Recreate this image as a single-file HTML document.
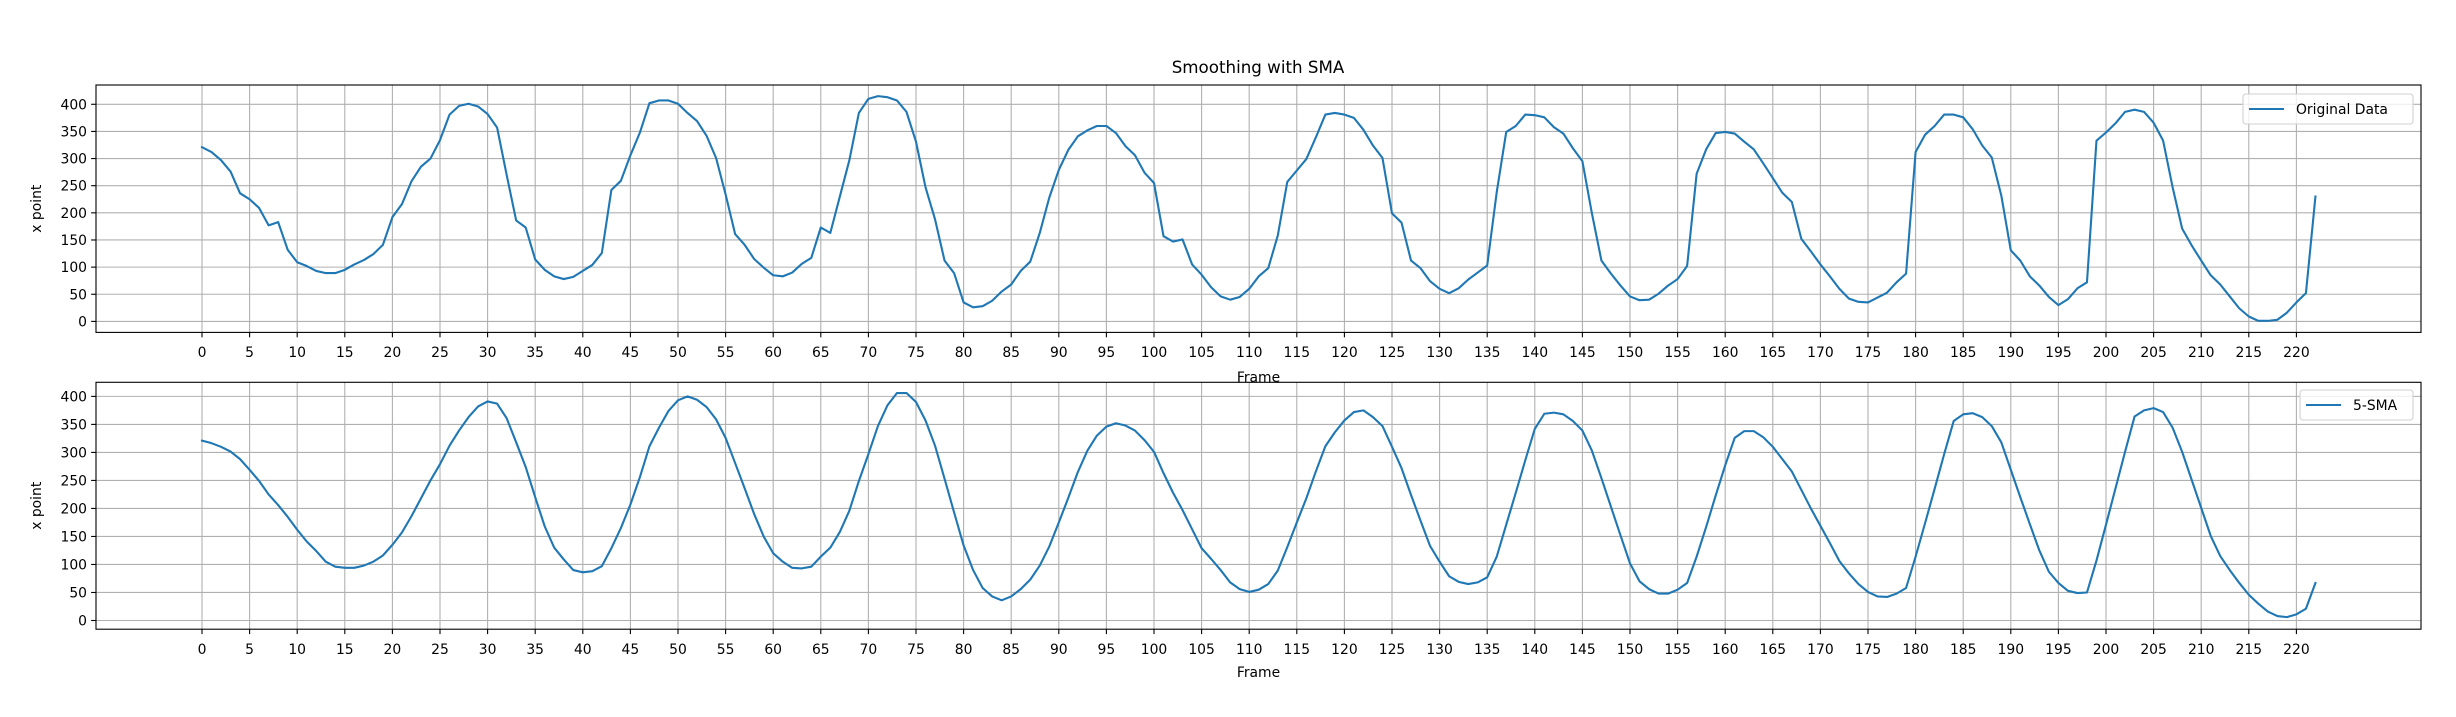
<!DOCTYPE html>
<html><head><meta charset="utf-8"><style>
html,body{margin:0;padding:0;background:#fff}
svg{display:block;font-family:"DejaVu Sans","Liberation Sans",sans-serif}
</style></head><body>
<svg id="fig" width="2456" height="717" viewBox="0 0 2456 717" xmlns="http://www.w3.org/2000/svg">
<rect width="2456" height="717" fill="#fff"/>
<text x="1258" y="73" font-size="16.7" text-anchor="middle" fill="#000">Smoothing with SMA</text>
</svg>
<script>
const original = [321,312,297,276,236,225,209,177,183,132,109,102,93,89,89,95,105,113,124,141,192,216,258,285,300,334,381,397,401,396,382,357,270,186,173,114,95,83,78,82,93,104,126,242,259,306,348,402,407,407,401,384,369,342,301,234,161,141,115,99,85,83,90,106,117,173,163,230,297,384,410,415,413,407,386,331,247,188,112,89,35,26,28,38,55,68,93,110,163,228,279,316,341,352,360,360,347,323,306,274,255,157,147,151,105,86,63,46,40,45,60,83,98,158,257,278,299,339,381,384,381,375,353,324,301,199,182,112,98,74,60,52,61,77,90,103,238,349,360,381,380,376,358,346,319,295,199,112,88,66,46,39,40,51,66,78,102,272,317,347,349,346,331,317,291,264,237,220,152,129,105,83,60,42,36,35,44,53,72,88,312,344,360,381,381,376,354,324,302,232,131,112,83,66,45,30,41,61,72,333,348,365,386,390,386,366,333,247,171,140,112,85,68,46,24,9,1,1,3,16,35,52,230];
const sma5 = [321,316.5,310,301.5,288,269,249,225,206,185,162,141,124,105,96,94,94,98,105,116,135,157,186,218,250,279,312,339,363,382,391,387,361,318,274,220,168,130,109,90,86,88,97,129,165,207,256,311,344,374,393,400,394,381,359,326,281,236,190,150,120,105,94,93,96,114,130,158,196,249,297,347,384,406,406,390,357,312,253,193,134,90,58,43,36,43,56,73,98,132,175,219,265,303,330,346,352,348,339,322,301,263,228,197,163,129,110,90,68,56,51,55,65,89,131,175,218,266,311,336,357,372,375,363,347,310,272,224,178,133,105,79,69,65,68,77,114,171,228,286,342,369,371,368,356,339,303,254,203,152,102,70,56,48,48,55,67,114,167,223,277,326,338,338,327,310,288,266,233,200,169,138,106,84,65,51,43,42,48,58,114,174,235,297,356,368,370,363,347,318,269,220,172,125,87,67,53,49,50,107,171,236,301,364,375,379,372,344,301,251,201,151,115,90,67,46,30,16,8,6,11,21,67];
const xTicks = [0,5,10,15,20,25,30,35,40,45,50,55,60,65,70,75,80,85,90,95,100,105,110,115,120,125,130,135,140,145,150,155,160,165,170,175,180,185,190,195,200,205,210,215,220];
const yTicks = [0,50,100,150,200,250,300,350,400];

const NS='http://www.w3.org/2000/svg';
const svg=document.getElementById('fig');
function mk(tag,attrs,parent){const e=document.createElementNS(NS,tag);for(const k in attrs)e.setAttribute(k,attrs[k]);(parent||svg).appendChild(e);return e;}
const xScale=v=>202+9.52*v;
const X0=96,X1=2421;

function panel(cfg){
  const {top,bottom,y0,yPer,data,label,name,legX,legY0,legY1,tickY,frameY}=cfg;
  const yScale=v=>y0-yPer*v;
  const g=mk('g',{});
  
  
  const bg=mk('rect',{x:X0,y:top,width:X1-X0,height:bottom-top,fill:'#fff'},g);
  
  
  xTicks.forEach(t=>{
    const x=xScale(t);
    const gl=mk('line',{x1:x,x2:x,y1:top,y2:bottom,stroke:'#b0b0b0','stroke-width':1.1},g);
    
    
    mk('line',{x1:x,x2:x,y1:bottom,y2:bottom+4.9,stroke:'#000','stroke-width':1.1},g);
    const tl=mk('text',{x:x,y:tickY,'font-size':13.9,'text-anchor':'middle',fill:'#000'},g);
    tl.textContent=t;
    
    
  });
  yTicks.forEach(t=>{
    const y=yScale(t);
    const gl=mk('line',{x1:X0,x2:X1,y1:y,y2:y,stroke:'#b0b0b0','stroke-width':1.1},g);
    
    
    mk('line',{x1:X0-4.9,x2:X0,y1:y,y2:y,stroke:'#000','stroke-width':1.1},g);
    const tl=mk('text',{x:X0-9,y:y+5,'font-size':13.9,'text-anchor':'end',fill:'#000'},g);
    tl.textContent=t;
    
    
  });
  const pts=data.map((v,i)=>xScale(i).toFixed(2)+','+yScale(v).toFixed(2)).join(' ');
  const pl=mk('polyline',{points:pts,fill:'none',stroke:'#1f77b4','stroke-width':2.1,'stroke-linejoin':'round','stroke-linecap':'square'},g);
  
  
  const fr=mk('rect',{x:X0,y:top,width:X1-X0,height:bottom-top,fill:'none',stroke:'#000','stroke-width':1.1},g);
  
  
  const yl=mk('text',{x:0,y:0,'font-size':13.9,'text-anchor':'middle',fill:'#000',transform:'translate(41,'+((top+bottom)/2)+') rotate(-90)'},g);
  yl.textContent='x point';
  
  
  const xl=mk('text',{x:(X0+X1)/2,y:frameY,'font-size':13.9,'text-anchor':'middle',fill:'#000'},g);
  xl.textContent='Frame';
  
  
  const lg=mk('g',{},g);
  
  
  mk('rect',{x:legX,y:legY0,width:2413-legX,height:legY1-legY0,rx:3,fill:'#fff','fill-opacity':0.8,stroke:'#d0d0d0','stroke-width':1.1},lg);
  const le=mk('line',{x1:legX+6,x2:legX+41,y1:(legY0+legY1)/2,y2:(legY0+legY1)/2,stroke:'#1f77b4','stroke-width':2.1},lg);
  
  
  const lt=mk('text',{x:legX+53,y:(legY0+legY1)/2+5,'font-size':13.9,fill:'#000'},lg);
  lt.textContent=label;
  
  
}
panel({top:85,bottom:332.4,y0:321.4,yPer:0.5428,data:original,label:'Original Data',name:'original',legX:2243,legY0:94,legY1:124,tickY:357,frameY:382});
panel({top:382.3,bottom:629.2,y0:620.5,yPer:0.5603,data:sma5,label:'5-SMA',name:'sma',legX:2300,legY0:390,legY1:420,tickY:654,frameY:677});
</script>
</body></html>
